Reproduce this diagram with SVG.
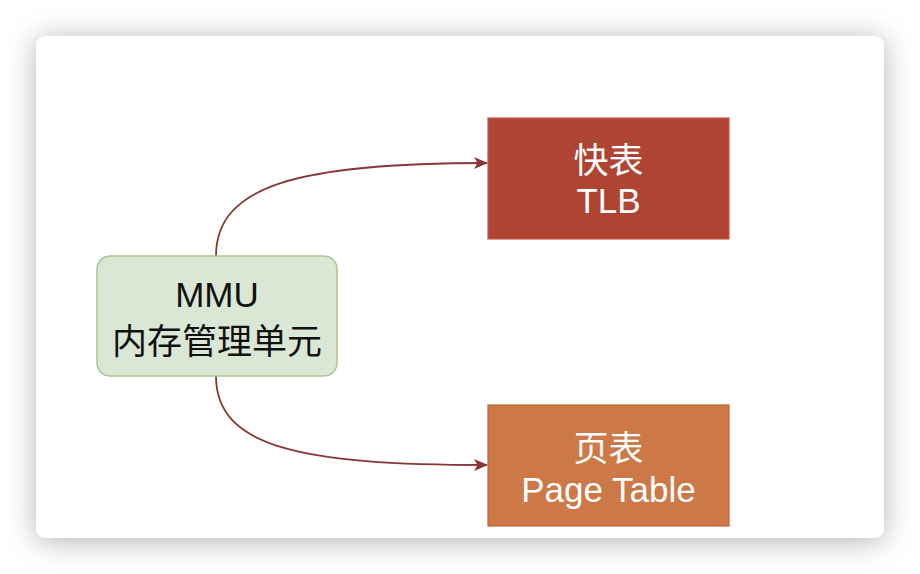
<svg xmlns="http://www.w3.org/2000/svg" width="920" height="574" viewBox="0 0 920 574">
  <defs>
    <filter id="shadow" x="-10%" y="-15%" width="120%" height="135%">
      <feDropShadow dx="0" dy="3" stdDeviation="15" flood-color="#000" flood-opacity="0.3"/>
    </filter>
    <marker id="arrow" viewBox="0 0 14 12" refX="13" refY="6" markerWidth="14" markerHeight="12" markerUnits="userSpaceOnUse" orient="auto">
      <path d="M0,0 L14,6 L0,12 L3.5,6 Z" fill="#8a3636"/>
    </marker>
    <style>
      .lbl { font-family: "Liberation Sans", "Noto Sans CJK SC", Arial, sans-serif; font-size: 35px; text-anchor: middle; }
      .cjk { font-family: "Noto Sans CJK SC", sans-serif; font-size: 35px; }
      .dark { fill: #111; }
      .light { fill: #fff; }
      .conn { fill: none; stroke: #8a3636; stroke-width: 1.8; marker-end: url(#arrow); }
    </style>
  </defs>
  <rect x="0" y="0" width="920" height="574" fill="#ffffff"/>
  <rect x="36" y="36" width="848" height="502" rx="10" ry="10" fill="#ffffff" filter="url(#shadow)"/>

  <g id="connectors">
    <path class="conn" d="M216,256 C216,185 300,163 487,163"/>
    <path class="conn" d="M216,376 C216,447 300,465 487,465"/>
  </g>

  <g id="mmu">
    <rect x="97" y="256" width="240" height="120" rx="13" ry="13" fill="#dbe7d5" stroke="#abc394" stroke-width="1.5"/>
    <text class="lbl dark" x="217" y="307">MMU</text>
    <text class="lbl cjk dark" x="217" y="354">内存管理单元</text>
  </g>

  <g id="tlb">
    <rect x="488" y="118" width="241" height="121" fill="#b04433" stroke="#c0584a" stroke-width="1.2"/>
    <text class="lbl cjk light" x="608.5" y="173">快表</text>
    <text class="lbl light" x="608.5" y="213">TLB</text>
  </g>

  <g id="pagetable">
    <rect x="488" y="405" width="241" height="121" fill="#cd7947" stroke="#bf6538" stroke-width="1.2"/>
    <text class="lbl cjk light" x="608.5" y="461">页表</text>
    <text class="lbl light" x="608.5" y="502">Page Table</text>
  </g>
</svg>
